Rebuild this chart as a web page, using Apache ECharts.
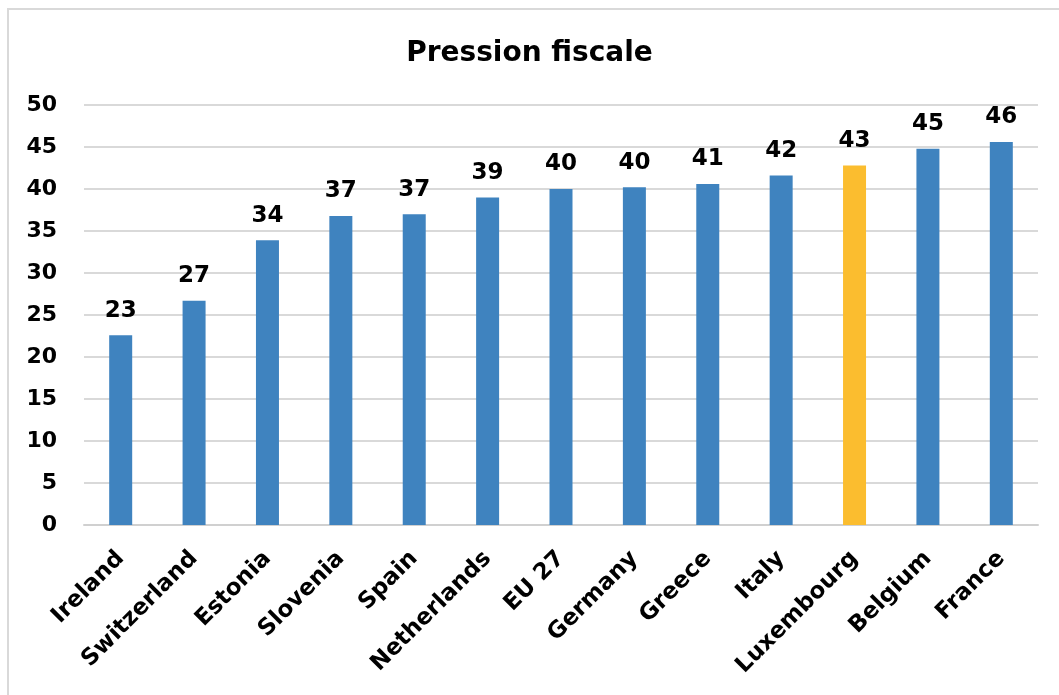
<!DOCTYPE html>
<html>
<head>
<meta charset="utf-8">
<script src="https://cdn.jsdelivr.net/npm/echarts@6/dist/echarts.min.js"></script>
<style>
  html, body { margin: 0; padding: 0; background: #fff; }
  #chart { width: 1059px; height: 695px; }
</style>
</head>
<body>
<div id="chart"></div>
<script>
var countries = ['Ireland', 'Switzerland', 'Estonia', 'Slovenia', 'Spain', 'Netherlands', 'EU 27',
  'Germany', 'Greece', 'Italy', 'Luxembourg', 'Belgium', 'France'];
var taxBurden = [22.6, 26.7, 33.9, 36.8, 37.0, 39.0, 40.0, 40.2, 40.6, 41.6, 42.8, 44.8, 45.6];
var highlight = 'Luxembourg';

var font = '"DejaVu Sans", Arial, sans-serif';

var chart = echarts.init(document.getElementById('chart'));

var option = {
  backgroundColor: '#fff',
  animation: false,
  title: {
    text: 'Pression fiscale',
    left: 'center',
    top: 35,
    textStyle: { fontFamily: font, fontSize: 28, fontWeight: 'bold', color: '#000' }
  },
  graphic: [{
    type: 'rect',
    shape: { x: 8, y: 9, width: 1100, height: 720 },
    style: { fill: 'none', stroke: '#d9d9d9', lineWidth: 2 },
    silent: true
  }],
  grid: { left: 84, right: 21, top: 105, bottom: 170 },
  xAxis: {
    type: 'category',
    data: countries,
    axisLine: { lineStyle: { color: '#d0d0d0', width: 2 } },
    axisTick: { show: false },
    axisLabel: {
      rotate: 45,
      margin: 30,
      interval: 0,
      fontFamily: font,
      fontSize: 23,
      fontWeight: 'bold',
      color: '#000'
    }
  },
  yAxis: {
    type: 'value',
    min: 0,
    max: 50,
    interval: 5,
    axisLine: { show: false },
    axisTick: { show: false },
    splitLine: { lineStyle: { color: '#d9d9d9', width: 2 } },
    axisLabel: {
      margin: 27,
      fontFamily: font,
      fontSize: 22,
      fontWeight: 'bold',
      color: '#000'
    }
  },
  series: [{
    type: 'bar',
    barWidth: 23,
    data: taxBurden.map(function (v, i) {
      return {
        value: v,
        itemStyle: { color: countries[i] === highlight ? '#fbbd2f' : '#3f83bf' }
      };
    }),
    label: {
      show: true,
      position: 'top',
      distance: 13,
      fontFamily: font,
      fontSize: 23,
      fontWeight: 'bold',
      color: '#000',
      formatter: function (p) { return Math.round(p.value); }
    }
  }]
};

chart.setOption(option);
</script>
</body>
</html>
